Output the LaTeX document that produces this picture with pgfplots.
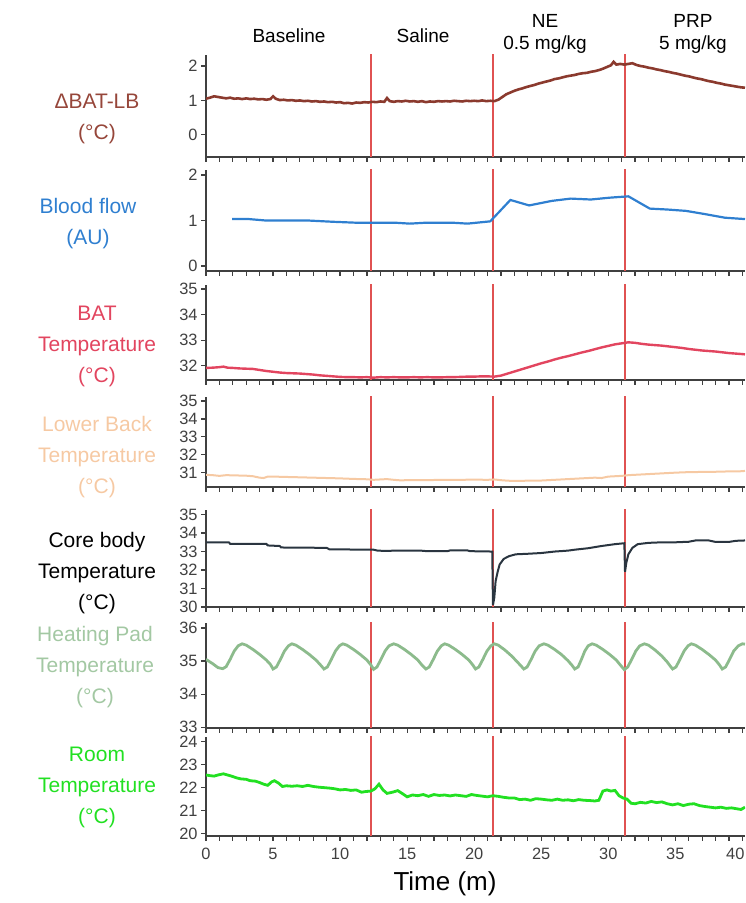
\documentclass[border=0pt]{standalone}
\usepackage{fontspec}
\setmainfont{Liberation Sans}
\usepackage{pgfplots}
\pgfplotsset{compat=1.18}
\definecolor{batlb}{HTML}{8B3A2E}
\definecolor{batlbL}{HTML}{96463A}
\definecolor{blood}{HTML}{2F7FD0}
\definecolor{bat}{HTML}{E2455F}
\definecolor{lb}{HTML}{F6C9A3}
\definecolor{core}{HTML}{2A3540}
\definecolor{heat}{HTML}{8CBB8C}
\definecolor{heatL}{HTML}{A3C8A3}
\definecolor{room}{HTML}{22E022}
\definecolor{vred}{HTML}{E05252}
\definecolor{axgray}{HTML}{404040}
\pgfplotsset{
  panel/.style={scale only axis, width=269.5pt, xmin=0, xmax=40.2,
    axis x line*=bottom, axis y line*=left,
    axis line style={line width=0.7pt, color=axgray},
    every tick/.style={line width=0.6pt, color=axgray},
    tick align=outside, major tick length=2.5pt, minor tick length=2.5pt,
    xtick={0,5,...,40}, minor xtick={0,1,...,40}, xticklabels={},
    ticklabel style={font=\fontsize{8.2}{9}\selectfont, color=axgray},
    /pgf/number format/assume math mode=true,
    yticklabel style={inner sep=1.5pt},
    anchor=south west},
  vline/.style={vred, line width=0.85pt},
}
\newcommand{\vlines}{%
  \addplot[vline] coordinates {(12.3,-100) (12.3,100)};
  \addplot[vline] coordinates {(21.4,-100) (21.4,100)};
  \addplot[vline] coordinates {(31.25,-100) (31.25,100)};
}
\begin{document}
\begin{tikzpicture}
\useasboundingbox (0,0) rectangle (372.5pt,-451.5pt);
% top labels
\begin{scope}[every node/.style={font=\fontsize{9.5}{11}\selectfont, align=center}]
\node at (144.5pt,-18pt) {Baseline};
\node at (211.5pt,-18pt) {Saline};
\node at (272.5pt,-17pt) {NE\\0.5 mg/kg};
\node at (346.5pt,-17pt) {PRP\\5 mg/kg};
\end{scope}
% left labels
\begin{scope}[every node/.style={font=\fontsize{10.5}{15.5}\selectfont, align=center}]
\node[text=batlbL] at (48.5pt,-59.5pt) {ΔBAT-LB\\(°C)};
\node[text=blood] at (44pt,-112pt) {Blood flow\\(AU)};
\node[text=bat] at (48.5pt,-173pt) {BAT\\Temperature\\(°C)};
\node[text=lb] at (48.5pt,-228.5pt) {Lower Back\\Temperature\\(°C)};
\node[text=black] at (48.5pt,-286.5pt) {Core body\\Temperature\\(°C)};
\node[text=heatL] at (47.5pt,-333.5pt) {Heating Pad\\Temperature\\(°C)};
\node[text=room] at (48.5pt,-393.5pt) {Room\\Temperature\\(°C)};
\end{scope}
\node[font=\fontsize{13}{15}\selectfont] at (222.5pt,-442pt) {Time (m)};

% Panel 1: Delta BAT-LB
\begin{axis}[panel, at={(103pt,-78.5pt)}, height=51pt, ymin=-0.64, ymax=2.32, ytick={0,1,2}]
\vlines
\addplot[batlb, line width=1.3pt] coordinates {
(0,1.05) (0.3,1.08) (0.6,1.12) (0.9,1.10) (1.2,1.08) (1.5,1.06) (1.8,1.08) (2.1,1.05) (2.4,1.06) (2.7,1.04)
(3.0,1.06) (3.3,1.04) (3.6,1.05) (3.9,1.03) (4.2,1.04) (4.5,1.02) (4.8,1.04) (5.0,1.12) (5.2,1.05) (5.5,1.01)
(5.8,1.02) (6.1,1.00) (6.4,1.01) (6.7,0.99) (7.0,1.00) (7.3,0.98) (7.6,0.99) (7.9,0.97) (8.2,0.98) (8.5,0.96)
(8.8,0.97) (9.1,0.95) (9.4,0.96) (9.7,0.94) (10.0,0.95) (10.3,0.92) (10.6,0.93) (10.9,0.91) (11.2,0.94) (11.5,0.93)
(11.8,0.95) (12.1,0.94) (12.4,0.96) (12.7,0.95) (13.0,0.97) (13.3,0.96) (13.5,1.07) (13.7,0.98) (14.0,0.96) (14.3,0.98)
(14.6,0.97) (14.9,0.99) (15.2,0.97) (15.5,0.98) (15.8,0.96) (16.1,0.98) (16.4,0.95) (16.7,0.97) (17.0,0.96) (17.3,0.98)
(17.6,0.97) (17.9,0.98) (18.2,0.97) (18.5,0.99) (18.8,0.98) (19.1,0.97) (19.4,0.99) (19.7,0.98) (20.0,0.99) (20.3,0.98)
(20.6,1.00) (20.9,0.98) (21.2,0.99) (21.5,0.98) (21.8,1.02) (22.1,1.10) (22.4,1.18) (22.7,1.23) (23.0,1.28) (23.3,1.32)
(23.6,1.35) (23.9,1.39) (24.2,1.42) (24.5,1.45) (24.8,1.49) (25.1,1.52) (25.4,1.55) (25.7,1.58) (26.0,1.62) (26.3,1.64)
(26.6,1.67) (26.9,1.70) (27.2,1.72) (27.5,1.74) (27.8,1.77) (28.1,1.79) (28.4,1.80) (28.7,1.83) (29.0,1.85) (29.3,1.88)
(29.6,1.92) (29.9,1.97) (30.2,2.02) (30.4,2.12) (30.6,2.04) (30.9,2.06) (31.2,2.04) (31.5,2.06) (31.8,2.08) (32.1,2.03)
(32.4,2.00) (32.7,1.98) (33.0,1.95) (33.3,1.93) (33.6,1.90) (33.9,1.88) (34.2,1.85) (34.5,1.83) (34.8,1.80) (35.1,1.78)
(35.4,1.75) (35.7,1.72) (36.0,1.70) (36.3,1.67) (36.6,1.64) (36.9,1.62) (37.2,1.59) (37.5,1.56) (37.8,1.54) (38.1,1.51)
(38.4,1.49) (38.7,1.46) (39.0,1.44) (39.3,1.42) (39.6,1.40) (39.9,1.38) (40.2,1.37)};
\end{axis}

% Panel 2: Blood flow
\begin{axis}[panel, at={(103pt,-135.5pt)}, height=50.5pt, ymin=-0.11, ymax=2.11, ytick={0,1,2}]
\vlines
\addplot[blood, line width=1.1pt] coordinates {
(1.95,1.03) (3.2,1.03) (4.4,1.00) (7.5,1.00) (9.5,0.97) (11.2,0.95) (14.1,0.95) (15.2,0.93) (16.4,0.95)
(18.4,0.95) (19.5,0.93) (21.2,0.98) (22.7,1.45) (24.1,1.33) (25.8,1.43) (27.2,1.48) (28.7,1.46) (30.1,1.50)
(31.5,1.53) (33.1,1.26) (34.4,1.24) (35.8,1.21) (37.2,1.14) (38.7,1.06) (40.2,1.03)};
\end{axis}

% Panel 3: BAT temperature
\begin{axis}[panel, at={(103pt,-190pt)}, height=47.5pt, ymin=31.45, ymax=35.16, ytick={32,33,34,35}]
\vlines
\addplot[bat, line width=1.2pt] coordinates {
(0,31.92) (0.5,31.93) (1.0,31.95) (1.3,31.97) (1.6,31.93) (2.0,31.92) (2.5,31.90) (3.0,31.89) (3.5,31.88) (4.0,31.84)
(4.5,31.80) (5.0,31.77) (5.5,31.74) (6.0,31.72) (6.5,31.71) (7.0,31.70) (7.5,31.68) (8.0,31.66) (8.5,31.63) (9.0,31.61)
(9.5,31.59) (10.0,31.57) (10.5,31.56) (11.0,31.56) (11.5,31.55) (12.0,31.56) (12.5,31.54) (13,31.56) (13.5,31.55) (14,31.56)
(14.5,31.55) (15,31.55) (15.5,31.56) (16,31.55) (16.5,31.56) (17,31.55) (17.5,31.55) (18,31.56) (18.5,31.56) (19,31.57)
(19.5,31.58) (20,31.58) (20.5,31.59) (21,31.59) (21.5,31.58) (22,31.62) (22.5,31.70) (23,31.78) (23.5,31.86) (24,31.94)
(24.5,32.02) (25,32.10) (25.5,32.17) (26,32.25) (26.5,32.32) (27,32.38) (27.5,32.45) (28,32.52) (28.5,32.58) (29,32.65)
(29.5,32.72) (30,32.78) (30.5,32.84) (31,32.88) (31.5,32.92) (32,32.90) (32.5,32.86) (33,32.83) (33.5,32.81) (34,32.79)
(34.5,32.76) (35,32.73) (35.5,32.70) (36,32.66) (36.5,32.63) (37,32.60) (37.5,32.58) (38,32.56) (38.5,32.53) (39,32.50)
(39.5,32.48) (40,32.46) (40.2,32.45)};
\end{axis}

% Panel 4: Lower back temperature
\begin{axis}[panel, at={(103pt,-243.5pt)}, height=45pt, ymin=30.2, ymax=35.23, ytick={31,32,33,34,35}]
\vlines
\addplot[lb, line width=1.0pt] coordinates {
(0,30.88) (0.5,30.86) (1,30.82) (1.5,30.86) (2,30.85) (2.5,30.84) (3,30.83) (3.5,30.80) (4,30.72) (4.3,30.70)
(4.6,30.78) (5,30.78) (6,30.76) (7,30.74) (8,30.72) (9,30.70) (10,30.68) (11,30.65) (12,30.63) (12.5,30.60)
(13,30.62) (13.5,30.64) (14,30.60) (14.5,30.57) (15,30.58) (16,30.58) (17,30.59) (18,30.59) (19,30.60) (20,30.61)
(21,30.60) (21.5,30.62) (22,30.58) (22.5,30.55) (23,30.54) (24,30.55) (25,30.56) (26,30.60) (27,30.64) (28,30.68)
(29,30.72) (29.5,30.70) (30,30.78) (31,30.82) (31.5,30.86) (32,30.88) (33,30.92) (34,30.96) (35,31.00) (36,31.03)
(37,31.04) (38,31.05) (39,31.07) (40,31.08) (40.2,31.10)};
\end{axis}

% Panel 5: Core body temperature
\begin{axis}[panel, at={(103pt,-303.5pt)}, height=48.5pt, ymin=30, ymax=35.25, ytick={30,31,32,33,34,35}]
\vlines
\addplot[core, line width=1.0pt] coordinates {
(0,33.5) (1.7,33.5) (1.8,33.42) (4.5,33.42) (4.6,33.33) (5.5,33.3) (5.6,33.22) (9.0,33.2) (9.2,33.12) (12.5,33.1)
(12.8,33.05) (13.5,33.03) (14,33.05) (16,33.05) (16.5,33.02) (18,33.02) (18.2,33.06) (19.5,33.06) (19.7,33.02) (21.35,33.0)
(21.4,30.1) (21.5,30.5) (21.6,31.4) (21.75,31.9) (21.9,32.3) (22.2,32.6) (22.6,32.75) (23.1,32.85) (24,32.88) (25,32.92)
(26,33.0) (27,33.05) (27.5,33.1) (28.5,33.18) (29.5,33.3) (30.5,33.4) (31.2,33.45) (31.25,31.9) (31.35,32.4) (31.5,32.85)
(31.8,33.2) (32.2,33.4) (33,33.47) (34,33.5) (35,33.5) (36,33.53) (36.5,33.6) (37.5,33.6) (38,33.52) (39,33.52)
(39.5,33.58) (40.2,33.6)};
\end{axis}

% Panel 6: Heating pad temperature
\begin{axis}[panel, at={(103pt,-364pt)}, height=52.5pt, ymin=32.98, ymax=36.15, ytick={33,34,35,36}]
\vlines
\addplot[heat, line width=1.4pt] coordinates {
(0,35.05) (0.5,34.92) (0.9,34.80) (1.25,34.77)
(1.5,34.83) (1.8,35.05) (2.1,35.30) (2.4,35.46) (2.7,35.52) (3.0,35.48) (3.5,35.35) (4.0,35.20) (4.5,35.03) (4.8,34.90)
(5.0,34.76) (5.25,34.82) (5.55,35.05) (5.85,35.30) (6.15,35.46) (6.4,35.52) (6.7,35.48) (7.2,35.35) (7.7,35.20) (8.2,35.03) (8.5,34.90)
(8.8,34.76) (9.05,34.82) (9.35,35.05) (9.65,35.30) (9.95,35.46) (10.2,35.52) (10.5,35.48) (11.0,35.35) (11.5,35.20) (12.0,35.03) (12.3,34.88)
(12.5,34.75) (12.75,34.82) (13.05,35.05) (13.35,35.30) (13.65,35.46) (14.0,35.52) (14.3,35.48) (14.8,35.35) (15.3,35.20) (15.8,35.03) (16.1,34.88)
(16.4,34.76) (16.65,34.82) (16.95,35.05) (17.25,35.30) (17.55,35.46) (17.8,35.52) (18.1,35.48) (18.6,35.35) (19.1,35.20) (19.6,35.03) (19.9,34.88)
(20.1,34.76) (20.35,34.82) (20.65,35.05) (20.95,35.30) (21.25,35.46) (21.5,35.52) (21.8,35.48) (22.3,35.33) (22.8,35.15) (23.2,34.98) (23.5,34.85)
(23.7,34.76) (23.95,34.82) (24.25,35.05) (24.55,35.30) (24.85,35.46) (25.2,35.52) (25.5,35.48) (26.0,35.35) (26.5,35.20) (27.0,35.01) (27.3,34.87)
(27.5,34.76) (27.75,34.82) (28.0,35.05) (28.25,35.30) (28.5,35.46) (28.8,35.52) (29.1,35.48) (29.6,35.35) (30.1,35.20) (30.6,35.03) (30.9,34.88)
(31.2,34.74) (31.45,34.82) (31.75,35.05) (32.05,35.30) (32.35,35.46) (32.7,35.52) (33.0,35.48) (33.5,35.33) (34.0,35.15) (34.4,34.97) (34.6,34.86)
(34.8,34.76) (35.05,34.82) (35.35,35.05) (35.65,35.30) (35.95,35.46) (36.2,35.52) (36.5,35.48) (37.0,35.35) (37.5,35.20) (38.0,35.03) (38.3,34.88)
(38.5,34.76) (38.75,34.82) (39.05,35.05) (39.35,35.30) (39.7,35.46) (40.0,35.52) (40.2,35.51)};
\end{axis}

% Panel 7: Room temperature
\begin{axis}[panel, at={(103pt,-418pt)}, height=49.5pt, ymin=19.9, ymax=24.2, ytick={20,21,22,23,24},
  xticklabels={0,5,10,15,20,25,30,35,\hspace*{-7pt}40}]
\vlines
\addplot[room, line width=1.4pt] coordinates {
(0,22.55) (0.3,22.52) (0.6,22.50) (0.9,22.55) (1.3,22.60) (1.6,22.55) (1.9,22.50) (2.3,22.42) (2.6,22.38) (3.0,22.36)
(3.3,22.30) (3.7,22.28) (4.0,22.22) (4.3,22.15) (4.6,22.10) (4.9,22.25) (5.1,22.30) (5.4,22.20) (5.7,22.05) (6.0,22.08)
(6.4,22.06) (6.8,22.08) (7.2,22.05) (7.6,22.10) (8.0,22.05) (8.4,22.02) (8.8,22.00) (9.2,21.98) (9.6,21.95) (10.0,21.90)
(10.4,21.92) (10.8,21.88) (11.2,21.90) (11.6,21.80) (11.9,21.83) (12.3,21.85) (12.6,21.95) (12.9,22.15) (13.2,21.90) (13.5,21.75)
(13.9,21.80) (14.3,21.87) (14.7,21.72) (15.0,21.60) (15.4,21.68) (15.8,21.65) (16.2,21.70) (16.6,21.62) (17.0,21.70) (17.4,21.66)
(17.8,21.68) (18.2,21.64) (18.6,21.68) (19.0,21.65) (19.4,21.62) (19.8,21.70) (20.2,21.66) (20.6,21.63) (21.0,21.60) (21.4,21.65)
(21.8,21.62) (22.2,21.58) (22.6,21.55) (23.0,21.55) (23.4,21.48) (23.8,21.50) (24.2,21.45) (24.6,21.52) (25.0,21.50) (25.4,21.47)
(25.8,21.45) (26.2,21.50) (26.6,21.45) (27.0,21.47) (27.4,21.43) (27.8,21.48) (28.2,21.45) (28.6,21.44) (29.0,21.42) (29.3,21.45)
(29.6,21.85) (29.9,21.90) (30.2,21.85) (30.5,21.88) (30.8,21.65) (31.1,21.55) (31.4,21.50) (31.7,21.32) (32.0,21.30) (32.4,21.36)
(32.8,21.33) (33.2,21.40) (33.6,21.35) (34.0,21.38) (34.4,21.30) (34.8,21.25) (35.2,21.30) (35.6,21.22) (36.0,21.28) (36.4,21.30)
(36.8,21.22) (37.2,21.18) (37.6,21.15) (38.0,21.12) (38.4,21.15) (38.8,21.10) (39.2,21.12) (39.6,21.08) (39.9,21.05) (40.2,21.15)};
\end{axis}
\end{tikzpicture}
\end{document}
